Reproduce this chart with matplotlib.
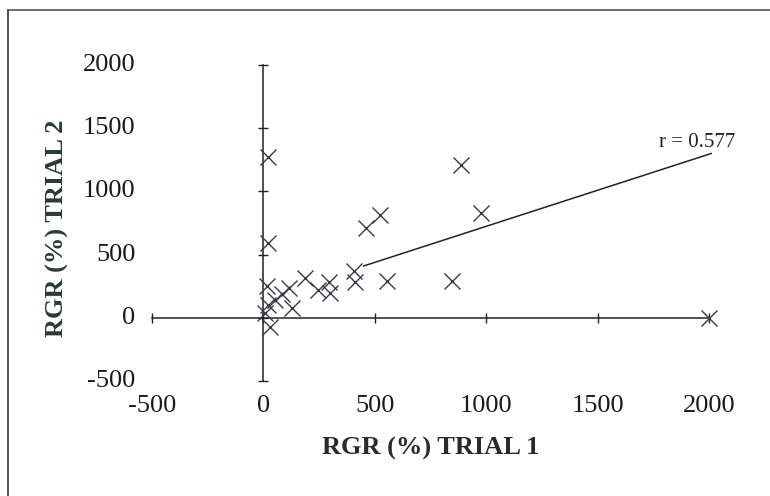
import matplotlib
matplotlib.use("Agg")
import matplotlib.pyplot as plt
from matplotlib.lines import Line2D

# Relative growth rate (%) of each line in the two trials
trial1 = [20, 20, 885, 975, 525, 460, 405, 410, 555, 845, 2000,
          15, 115, 185, 295, 245, 50, 130, 5, 30, 85, 300, 20]
trial2 = [1270, 590, 1210, 830, 815, 710, 370, 285, 290, 290, 0,
          250, 235, 315, 280, 220, 140, 75, 35, -70, 185, 195, 100]

# Fitted trend line end points
trend_x = [450, 2010]
trend_y = [410, 1300]
r_label = "r = 0.577"

ticks = [-500, 0, 500, 1000, 1500, 2000]
tick_labels = ["-500", "0", "500", "1000", "1500", "2000"]

W, H, DPI = 770, 496, 100
plt.rcParams["font.family"] = ["Liberation Serif", "DejaVu Serif"]

fig = plt.figure(figsize=(W / DPI, H / DPI), dpi=DPI)
fig.patch.set_facecolor("white")

# axes box in pixels: left, top, right, bottom
L, T, R, B = 152, 65, 709, 381
ax = fig.add_axes([L / W, 1 - B / H, (R - L) / W, (B - T) / H])
ax.set_xlim(-500, 2000)
ax.set_ylim(-500, 2000)
ax.patch.set_alpha(0)

ink = "#222222"
for side in ("top", "right"):
    ax.spines[side].set_visible(False)
ax.spines["left"].set_position(("data", 0))
ax.spines["bottom"].set_position(("data", 0))
for side in ("left", "bottom"):
    ax.spines[side].set_color(ink)
    ax.spines[side].set_linewidth(1.1)

ax.set_xticks(ticks)
ax.set_yticks(ticks)
ax.tick_params(direction="inout", length=7, width=1.0, color=ink,
               labelbottom=False, labelleft=False)

# tick labels sit at the outer edge of the plot, not on the crossing axes
for v, s in zip(ticks, tick_labels):
    ax.annotate(s, xy=(0, v), xycoords=("axes fraction", "data"),
                xytext=(-12, 0), textcoords="offset points",
                ha="right", va="center", fontsize=19, color="#1a1a1a")
    ax.annotate(s, xy=(v, 0), xycoords=("data", "axes fraction"),
                xytext=(0, -18), textcoords="offset points",
                ha="center", va="center", fontsize=19, color="#1a1a1a")

ax.plot(trial1, trial2, linestyle="none", marker="x", markersize=12,
        markeredgewidth=1.0, color="#3a3a4a", clip_on=False, zorder=3)
ax.plot(trend_x, trend_y, color=ink, linewidth=1.1, clip_on=False)
ax.text(1775, 1390, r_label, ha="left", va="center", fontsize=15, color=ink)

fig.text(431 / W, 1 - 448 / H, "RGR (%) TRIAL 1", ha="center", va="center",
         fontsize=19, fontweight="bold", color="#2a2a2a")
fig.text(57 / W, 1 - 228 / H, "RGR (%) TRIAL 2", ha="center", va="center",
         rotation=90, fontsize=19, fontweight="bold", color="#2a3a34")

# chart-area border along the top and left edges
fig.add_artist(Line2D([8 / W, 8 / W], [0, 1 - 10 / H], color="#333333",
                      linewidth=1.2, transform=fig.transFigure))
fig.add_artist(Line2D([8 / W, 1], [1 - 10 / H, 1 - 10 / H], color="#555555",
                      linewidth=1.2, transform=fig.transFigure))

fig.savefig("out.png", dpi=DPI, facecolor="white")
